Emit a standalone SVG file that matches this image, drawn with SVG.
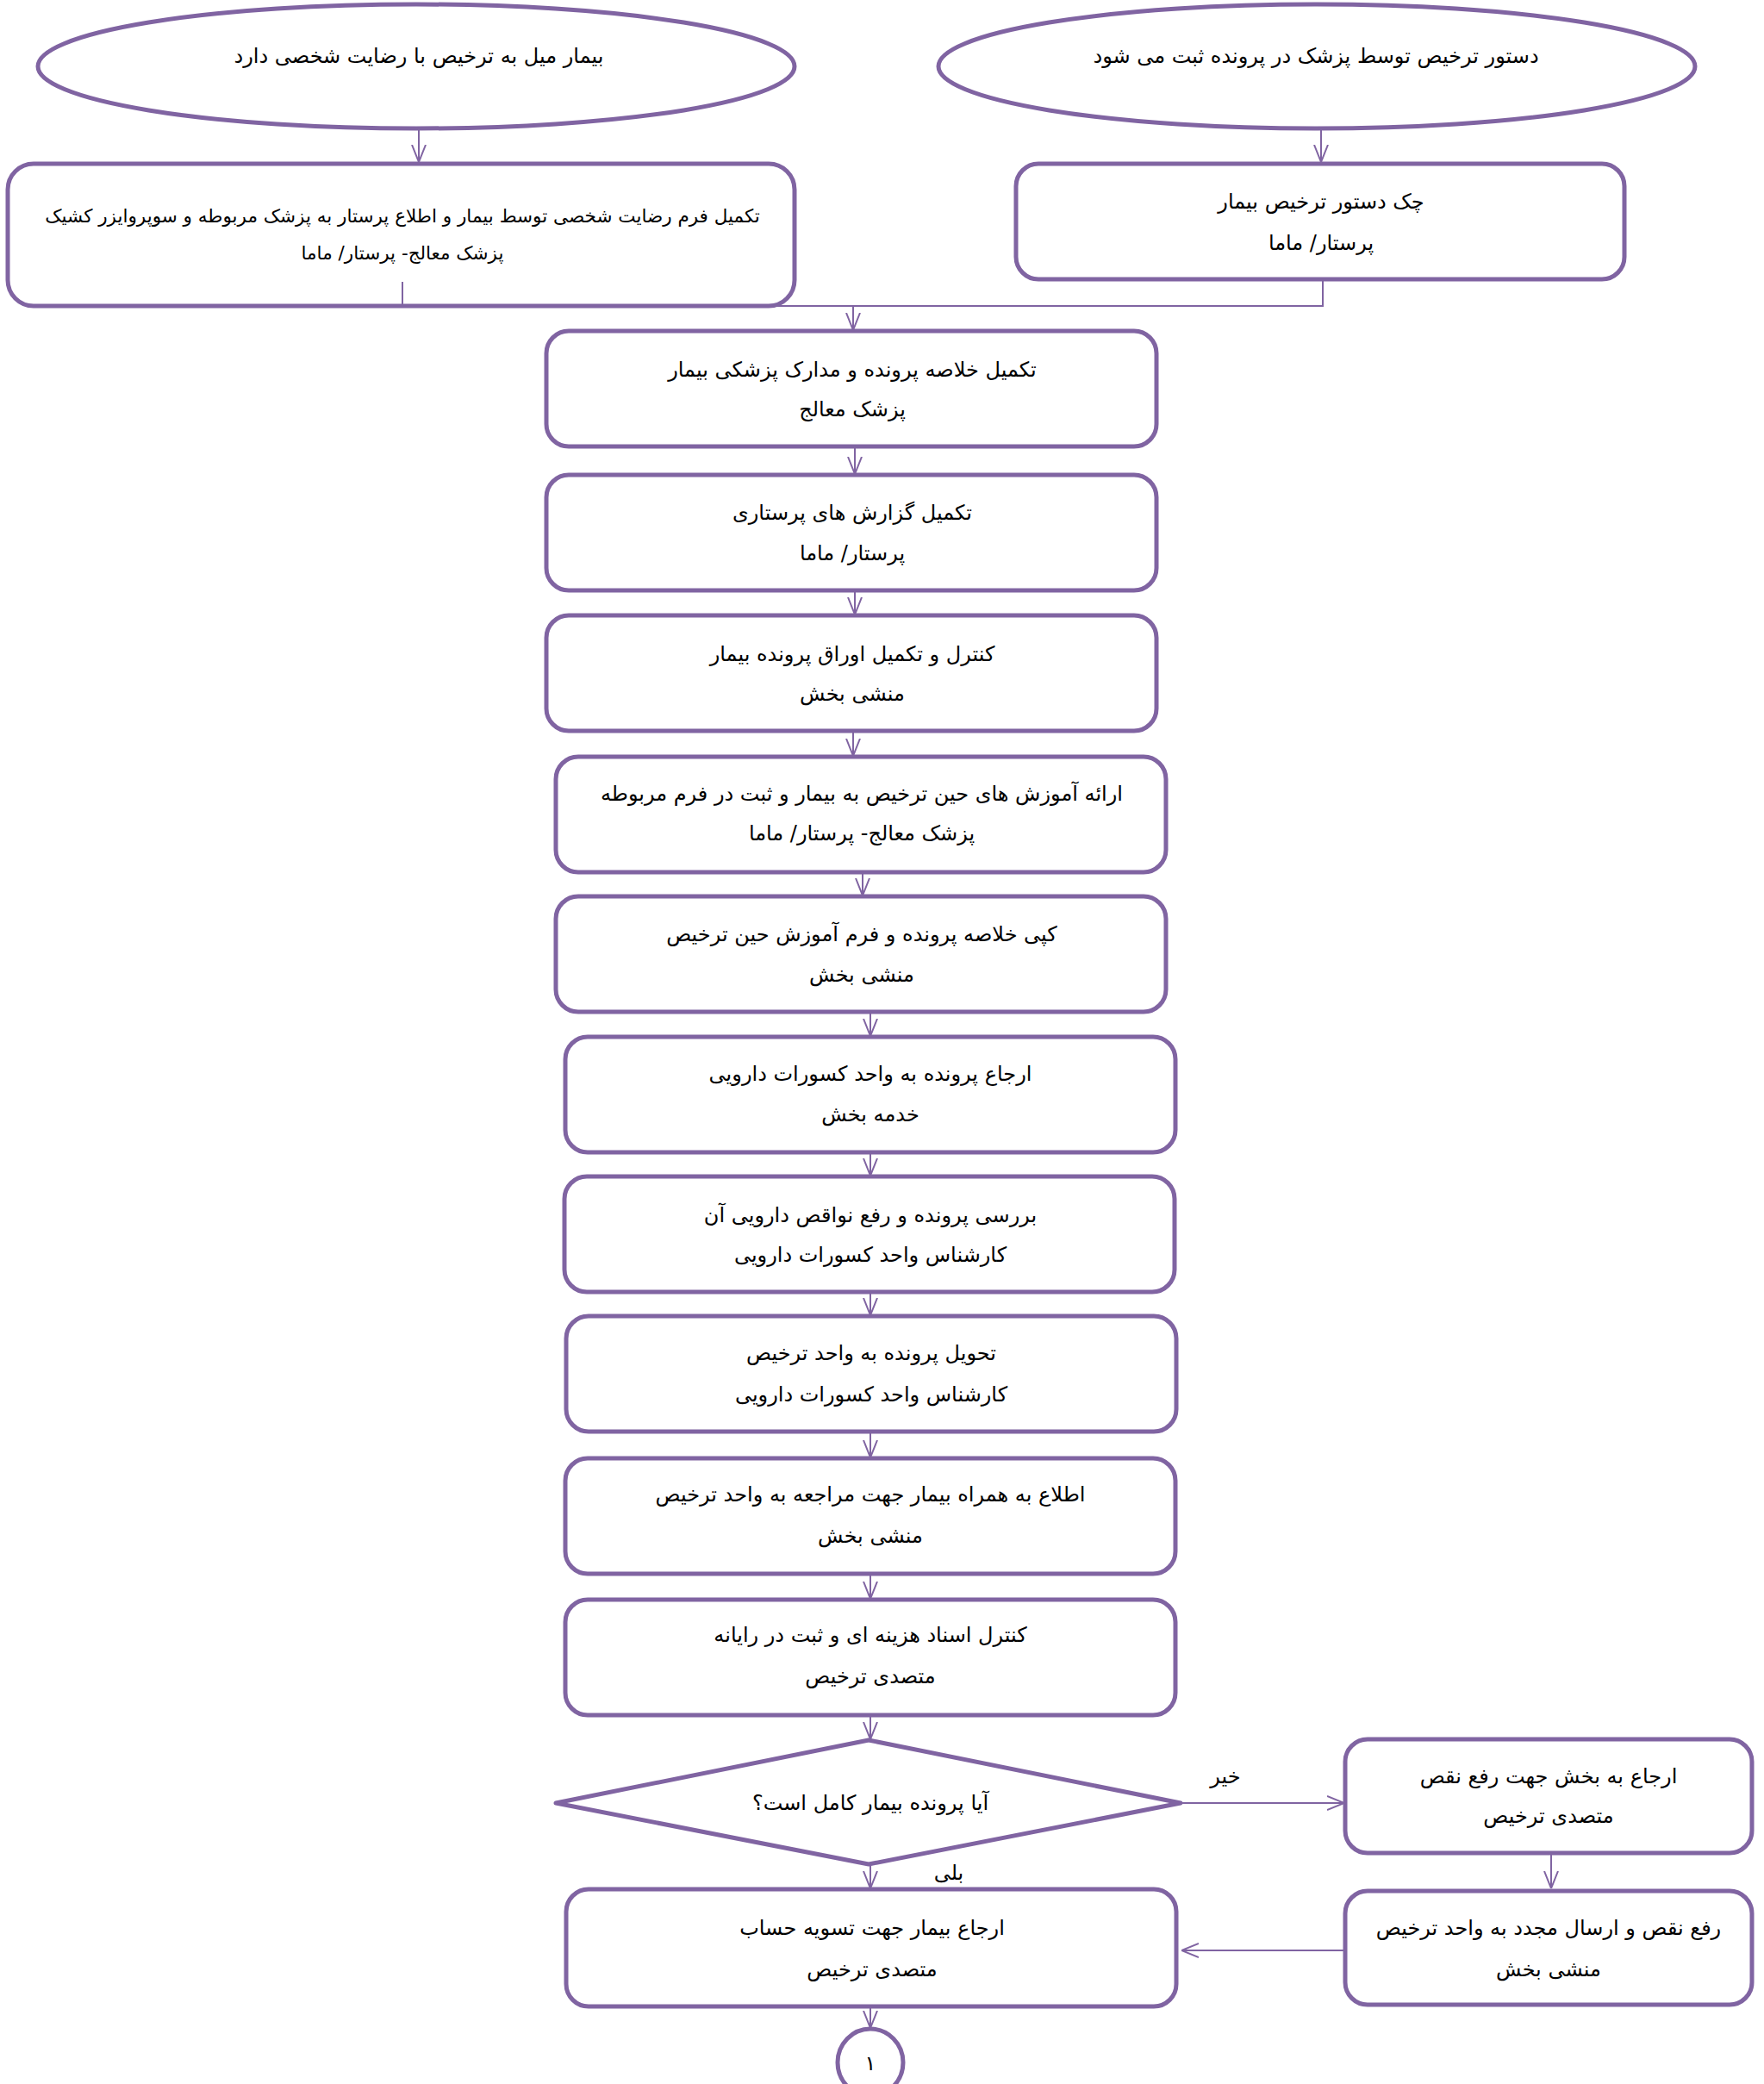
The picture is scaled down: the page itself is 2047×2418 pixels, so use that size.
<svg xmlns="http://www.w3.org/2000/svg" width="2047" height="2418" viewBox="0 0 2047 2418">
<style>
.n{fill:#fff;stroke:#8064A2;stroke-width:5}
.t{font-family:"DejaVu Sans","Noto Sans",sans-serif;font-size:24px;fill:#000;text-anchor:middle;direction:rtl}
.s{font-size:21.5px}
.c{fill:none;stroke:#8064A2;stroke-width:2}
</style>
<defs>
<marker id="a" viewBox="0 0 20 20" refX="20" refY="10" markerWidth="20" markerHeight="20" markerUnits="userSpaceOnUse" orient="auto">
<path d="M0,2 L20,10 L0,18" fill="none" stroke="#8064A2" stroke-width="2"/>
</marker>
</defs>
<rect width="2047" height="2418" fill="#fff"/>
<g id="connectors">
<line class="c" x1="486" y1="150" x2="486" y2="188" marker-end="url(#a)"/>
<line class="c" x1="1533" y1="150" x2="1533" y2="188" marker-end="url(#a)"/>
<polyline class="c" points="467,327 467,355 1535,355 1535,324"/>
<line class="c" x1="990" y1="355" x2="990" y2="383" marker-end="url(#a)"/>
<line class="c" x1="992" y1="518" x2="992" y2="550" marker-end="url(#a)"/>
<line class="c" x1="992" y1="685" x2="992" y2="713" marker-end="url(#a)"/>
<line class="c" x1="990" y1="848" x2="990" y2="877" marker-end="url(#a)"/>
<line class="c" x1="1001" y1="1012" x2="1001" y2="1039" marker-end="url(#a)"/>
<line class="c" x1="1010" y1="1174" x2="1010" y2="1202" marker-end="url(#a)"/>
<line class="c" x1="1010" y1="1337" x2="1010" y2="1364" marker-end="url(#a)"/>
<line class="c" x1="1010" y1="1499" x2="1010" y2="1526" marker-end="url(#a)"/>
<line class="c" x1="1010" y1="1661" x2="1010" y2="1691" marker-end="url(#a)"/>
<line class="c" x1="1010" y1="1826" x2="1010" y2="1855" marker-end="url(#a)"/>
<line class="c" x1="1010" y1="1990" x2="1010" y2="2018" marker-end="url(#a)"/>
<line class="c" x1="1010" y1="2163" x2="1010" y2="2191" marker-end="url(#a)"/>
<line class="c" x1="1010" y1="2328" x2="1010" y2="2353" marker-end="url(#a)"/>
<line class="c" x1="1370" y1="2092" x2="1560" y2="2092" marker-end="url(#a)"/>
<line class="c" x1="1800" y1="2150" x2="1800" y2="2191" marker-end="url(#a)"/>
<line class="c" x1="1561" y1="2263" x2="1371" y2="2263" marker-end="url(#a)"/>
<text class="t" x="1422" y="2069">خیر</text>
<text class="t" x="1101" y="2181">بلی</text>
</g>
<g id="start1">
<ellipse class="n" cx="483" cy="77" rx="439" ry="72"/>
<text class="t" x="486" y="73">بیمار میل به ترخیص با رضایت شخصی دارد</text>
</g>
<g id="start2">
<ellipse class="n" cx="1528" cy="77" rx="439" ry="72"/>
<text class="t" x="1527" y="73">دستور ترخیص توسط پزشک در پرونده ثبت می شود</text>
</g>
<g id="left1">
<rect class="n" x="9" y="190" width="913" height="165" rx="30"/>
<text class="t s" x="467" y="258">تکمیل فرم رضایت شخصی توسط بیمار و اطلاع پرستار به پزشک مربوطه و سوپروایزر کشیک</text>
<text class="t s" x="467" y="301">پزشک معالج- پرستار/ ماما</text>
<line class="c" x1="467" y1="327" x2="467" y2="355"/>
</g>
<g id="right1">
<rect class="n" x="1179" y="190" width="706" height="134" rx="26"/>
<text class="t" x="1533" y="242">چک دستور ترخیص بیمار</text>
<text class="t" x="1533" y="290">پرستار/ ماما</text>
</g>
<g id="b1">
<rect class="n" x="634" y="384" width="708" height="134" rx="26"/>
<text class="t" x="989" y="437">تکمیل خلاصه پرونده و مدارک پزشکی بیمار</text>
<text class="t" x="989" y="483">پزشک معالج</text>
</g>
<g id="b2">
<rect class="n" x="634" y="551" width="708" height="134" rx="26"/>
<text class="t" x="989" y="603">تکمیل گزارش های پرستاری</text>
<text class="t" x="989" y="650">پرستار/ ماما</text>
</g>
<g id="b3">
<rect class="n" x="634" y="714" width="708" height="134" rx="26"/>
<text class="t" x="989" y="767">کنترل و تکمیل اوراق پرونده بیمار</text>
<text class="t" x="989" y="813">منشی بخش</text>
</g>
<g id="b4">
<rect class="n" x="645" y="878" width="708" height="134" rx="26"/>
<text class="t" x="1000" y="929">ارائه آموزش های حین ترخیص به بیمار و ثبت در فرم مربوطه</text>
<text class="t" x="1000" y="975">پزشک معالج- پرستار/ ماما</text>
</g>
<g id="b5">
<rect class="n" x="645" y="1040" width="708" height="134" rx="26"/>
<text class="t" x="1000" y="1092">کپی خلاصه پرونده و فرم آموزش حین ترخیص</text>
<text class="t" x="1000" y="1139">منشی بخش</text>
</g>
<g id="b6">
<rect class="n" x="656" y="1203" width="708" height="134" rx="26"/>
<text class="t" x="1010" y="1254">ارجاع پرونده به واحد کسورات دارویی</text>
<text class="t" x="1010" y="1301">خدمه بخش</text>
</g>
<g id="b7">
<rect class="n" x="655" y="1365" width="708" height="134" rx="26"/>
<text class="t" x="1010" y="1418">بررسی پرونده و رفع نواقص دارویی آن</text>
<text class="t" x="1010" y="1464">کارشناس واحد کسورات دارویی</text>
</g>
<g id="b8">
<rect class="n" x="657" y="1527" width="708" height="134" rx="26"/>
<text class="t" x="1011" y="1578">تحویل پرونده به واحد ترخیص</text>
<text class="t" x="1011" y="1626">کارشناس واحد کسورات دارویی</text>
</g>
<g id="b9">
<rect class="n" x="656" y="1692" width="708" height="134" rx="26"/>
<text class="t" x="1010" y="1742">اطلاع به همراه بیمار جهت مراجعه به واحد ترخیص</text>
<text class="t" x="1010" y="1790">منشی بخش</text>
</g>
<g id="b10">
<rect class="n" x="656" y="1856" width="708" height="134" rx="26"/>
<text class="t" x="1010" y="1905">کنترل اسناد هزینه ای و ثبت در رایانه</text>
<text class="t" x="1010" y="1953">متصدی ترخیص</text>
</g>
<g id="decision">
<polygon class="n" points="1008,2019 1370,2092 1008,2163 645,2092" stroke-linejoin="round"/>
<text class="t" x="1010" y="2100">آیا پرونده بیمار کامل است؟</text>
</g>
<g id="b11">
<rect class="n" x="657" y="2192" width="708" height="136" rx="26"/>
<text class="t" x="1012" y="2245">ارجاع بیمار جهت تسویه حساب</text>
<text class="t" x="1012" y="2293">متصدی ترخیص</text>
</g>
<g id="r1">
<rect class="n" x="1561" y="2018" width="472" height="132" rx="26"/>
<text class="t" x="1797" y="2069">ارجاع به بخش جهت رفع نقص</text>
<text class="t" x="1797" y="2115">متصدی ترخیص</text>
</g>
<g id="r2">
<rect class="n" x="1561" y="2194" width="472" height="132" rx="26"/>
<text class="t" x="1797" y="2245">رفع نقص و ارسال مجدد به واحد ترخیص</text>
<text class="t" x="1797" y="2293">منشی بخش</text>
</g>
<g id="end">
<ellipse class="n" cx="1010" cy="2393" rx="38" ry="39"/>
<text class="t" x="1010" y="2402">١</text>
</g>
</svg>
